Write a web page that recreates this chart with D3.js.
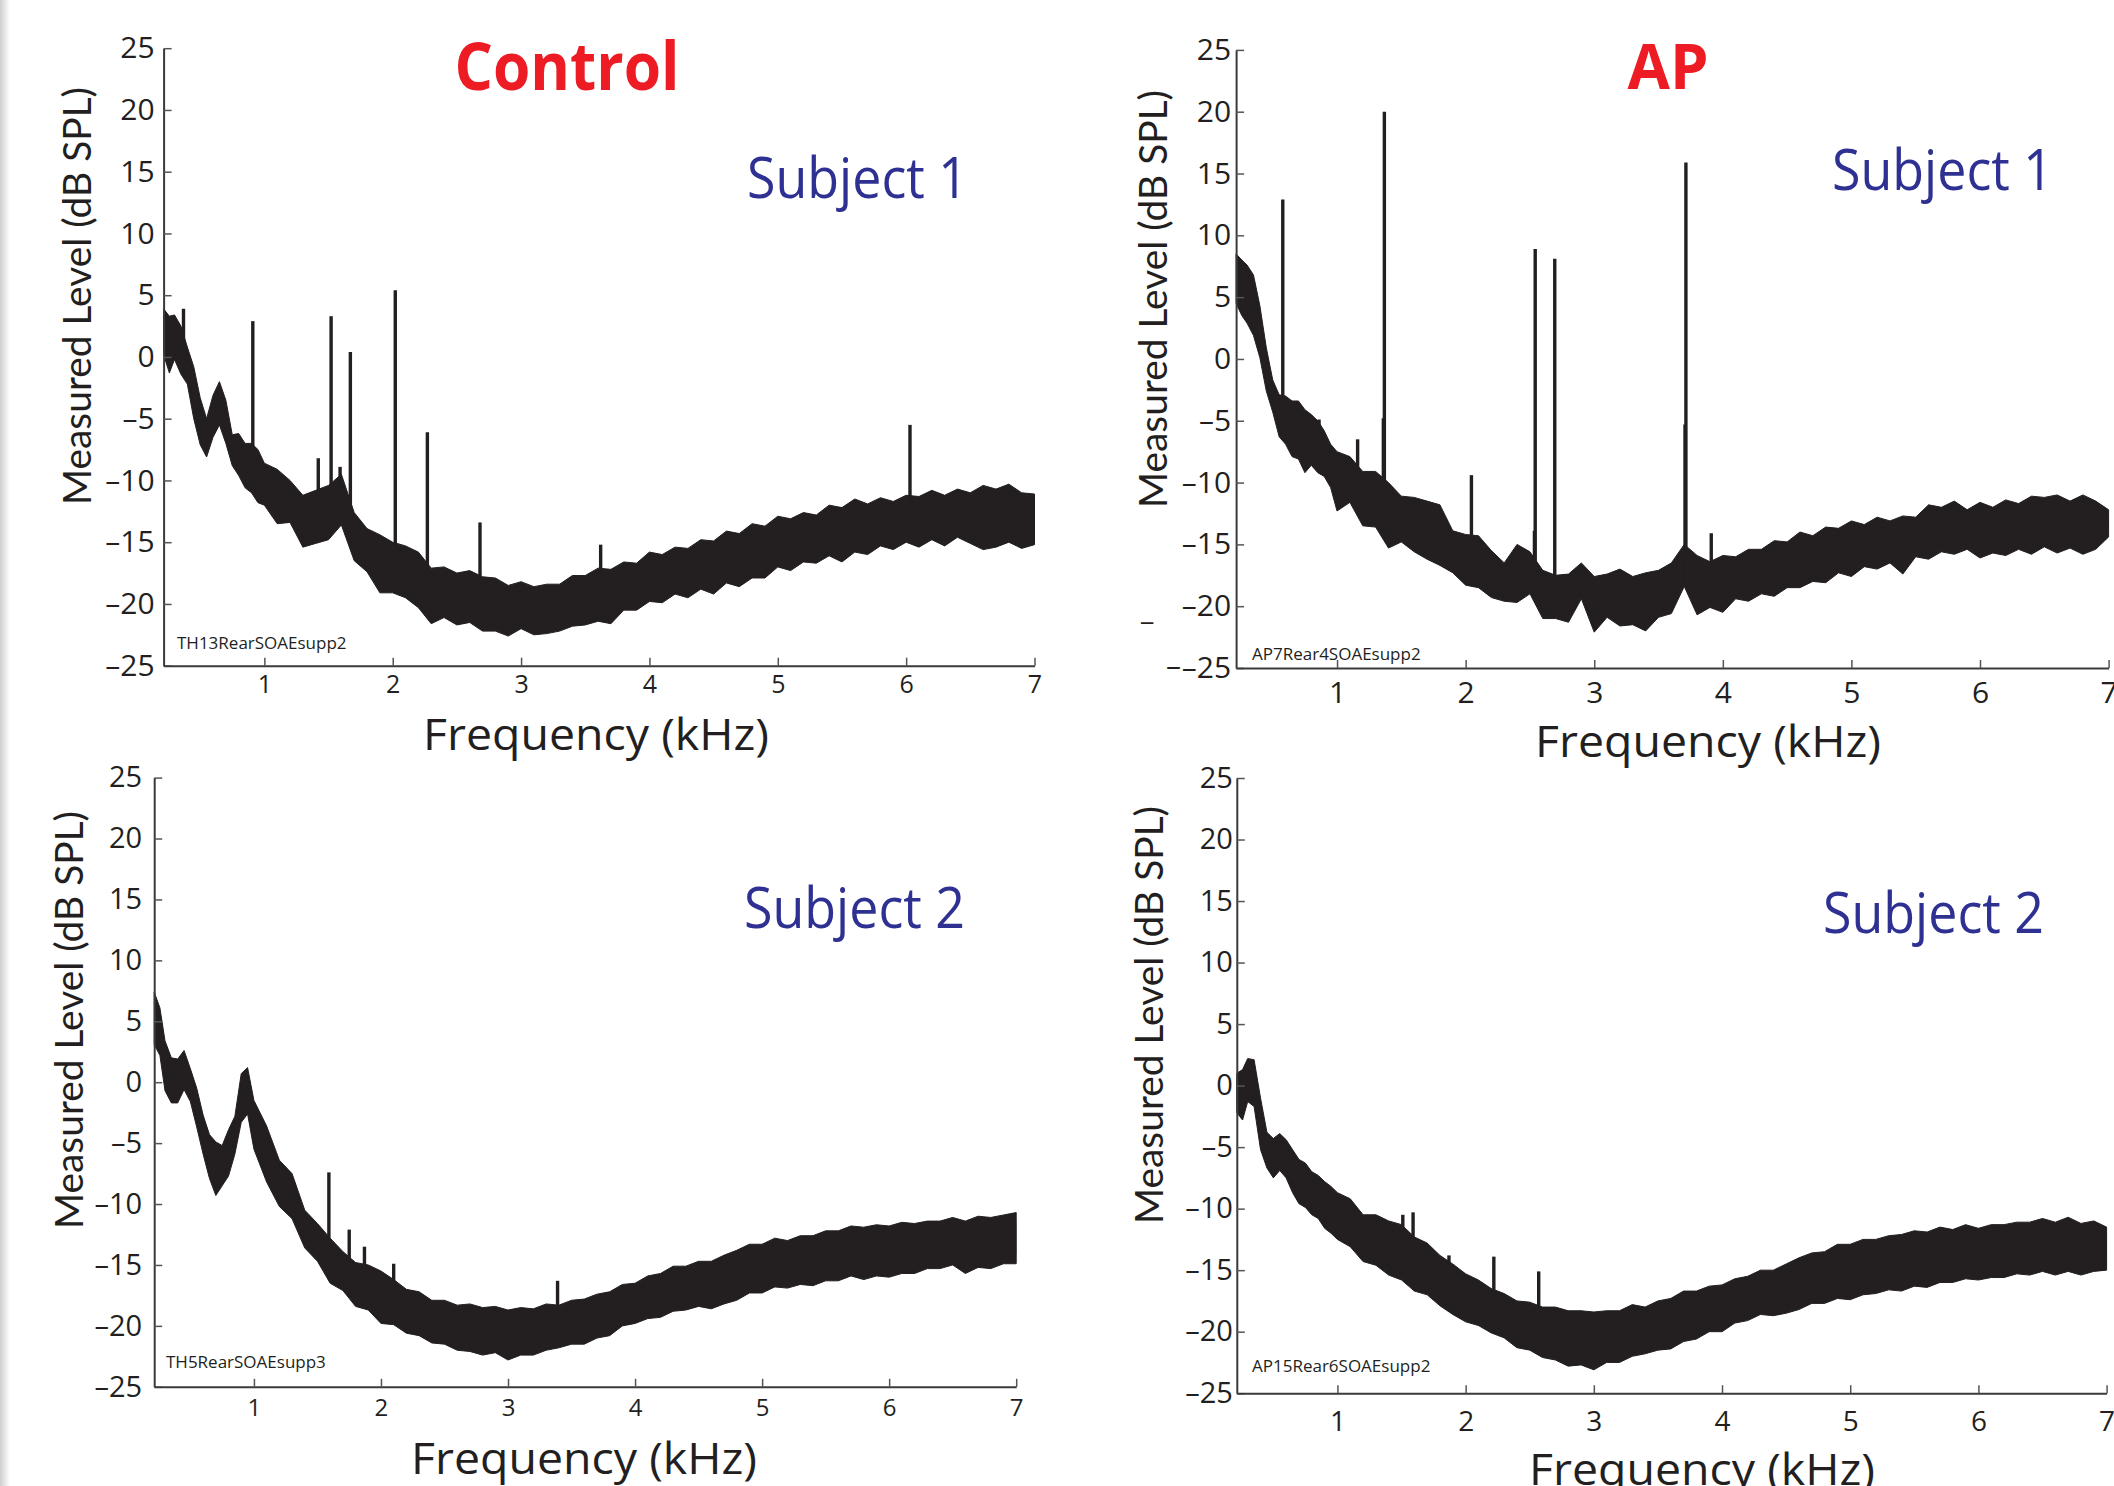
<!DOCTYPE html>
<html>
<head>
<meta charset="utf-8">
<script src="https://cdn.jsdelivr.net/npm/d3@7"></script>
<style>
  body { margin: 0; background: #fff; }
  svg { display: block; }
</style>
</head>
<body>
<svg id="chart" width="2114" height="1486"></svg>
<script>
// frequency grid (kHz) shared by all four spectra
var freq = [0.215, 0.26, 0.3, 0.35, 0.4, 0.45, 0.5, 0.55, 0.6, 0.65, 0.7, 0.75, 0.8, 0.85, 0.9, 0.95, 1.0,
  1.1, 1.2, 1.3, 1.4, 1.5, 1.6, 1.7, 1.8, 1.9, 2.0,
  2.1, 2.2, 2.3, 2.4, 2.5, 2.6, 2.7, 2.8, 2.9, 3.0,
  3.1, 3.2, 3.3, 3.4, 3.5, 3.6, 3.7, 3.8, 3.9, 4.0,
  4.1, 4.2, 4.3, 4.4, 4.5, 4.6, 4.7, 4.8, 4.9, 5.0,
  5.1, 5.2, 5.3, 5.4, 5.5, 5.6, 5.7, 5.8, 5.9, 6.0,
  6.1, 6.2, 6.3, 6.4, 6.5, 6.6, 6.7, 6.8, 6.9, 7.0];

var yTicks = [-25, -20, -15, -10, -5, 0, 5, 10, 15, 20, 25];
var xTicks = [1, 2, 3, 4, 5, 6, 7];

// Control, subject 1: dense noise band (upper/lower) and the tips of its hairs (peak/dip), dB SPL
var ctl1Upper = [3.4, 3.0, 2.8, 2.2, 0.0, -1.5, -4.0, -5.8, -3.8, -2.4, -4.2, -6.8, -7.2, -7.4, -7.8, -8.0, -9.4,
  -9.6, -10.8, -11.6, -11.9, -11.0, -10.2, -13.4, -14.3, -15.3, -15.6,
  -15.8, -16.6, -17.5, -17.9, -18.0, -18.2, -18.3, -18.8, -19.0, -19.0,
  -19.1, -19.2, -18.9, -18.6, -18.2, -18.0, -17.6, -17.5, -17.2, -16.8,
  -16.6, -16.3, -16.1, -15.8, -15.3, -15.1, -14.9, -14.5, -14.2, -13.9,
  -13.7, -13.5, -13.3, -13.0, -12.8, -12.6, -12.5, -12.5, -12.3, -12.2,
  -12.0, -11.9, -11.7, -11.8, -11.6, -11.4, -11.3, -11.3, -11.6, -12.0];
var ctl1Lower = [1.0, -0.5, 0.5, -0.5, -1.6, -4.2, -6.6, -7.4, -6.0, -4.8, -6.5, -8.0, -9.0, -9.6, -10.5, -10.8, -11.4,
  -12.6, -12.9, -14.6, -14.6, -13.9, -13.0, -15.6, -16.9, -18.3, -18.6,
  -18.4, -19.8, -20.8, -20.6, -20.8, -21.0, -21.4, -21.8, -22.0, -21.6,
  -21.8, -22.0, -21.5, -21.4, -20.9, -21.0, -20.8, -20.0, -19.6, -19.3,
  -19.0, -18.7, -18.5, -18.4, -18.2, -17.8, -17.6, -17.4, -16.9, -16.4,
  -16.4, -16.0, -15.6, -15.6, -15.5, -15.3, -15.0, -14.8, -14.6, -14.4,
  -14.5, -14.3, -14.4, -14.1, -14.3, -15.0, -14.4, -14.4, -14.5, -14.7];
var ctl1Peak = [3.9, 3.3, 3.4, 2.5, 0.8, -0.8, -3.3, -5.0, -3.1, -2.0, -3.5, -6.3, -6.2, -7.0, -7.0, -7.5, -8.6,
  -9.1, -10.0, -11.2, -10.8, -10.4, -9.5, -12.6, -13.9, -14.4, -15.0,
  -15.3, -15.8, -17.1, -17.0, -17.5, -17.3, -17.8, -17.9, -18.5, -18.2,
  -18.6, -18.4, -18.4, -17.7, -17.7, -17.1, -17.2, -16.6, -16.7, -15.8,
  -16.0, -15.4, -15.5, -14.8, -14.9, -14.1, -14.3, -13.5, -13.7, -12.9,
  -13.1, -12.6, -12.8, -12.0, -12.2, -11.5, -11.9, -11.4, -11.7, -11.2,
  -11.3, -10.8, -11.2, -10.7, -11.0, -10.4, -10.7, -10.3, -11.0, -11.1];
var ctl1Dip = [0.2, -1.3, -0.2, -1.4, -2.2, -5.0, -7.1, -8.1, -6.5, -5.5, -7.0, -8.8, -9.6, -10.6, -11.0, -11.8, -12.0,
  -13.5, -13.4, -15.4, -15.1, -14.8, -13.6, -16.5, -17.4, -19.1, -19.1,
  -19.5, -20.3, -21.6, -21.1, -21.7, -21.5, -22.2, -22.2, -22.6, -22.0,
  -22.5, -22.4, -22.2, -21.8, -21.7, -21.4, -21.6, -20.5, -20.5, -19.8,
  -19.9, -19.2, -19.5, -18.8, -19.2, -18.3, -18.6, -17.9, -17.9, -17.0,
  -17.3, -16.6, -16.7, -16.1, -16.6, -15.8, -16.0, -15.3, -15.6, -15.0,
  -15.4, -14.8, -15.3, -14.6, -15.1, -15.6, -15.4, -15.0, -15.5, -15.2];
var ctl1SpikeFreq = [0.37, 0.91, 1.42, 1.52, 1.59, 1.67, 2.02, 2.27, 2.68, 3.62, 6.03];
var ctl1SpikeLevel = [3.9, 2.9, -8.2, 3.3, -8.9, 0.4, 5.4, -6.1, -13.4, -15.2, -5.5];

// AP, subject 1
var ap1Upper = [8.0, 7.6, 7.0, 6.3, 3.5, 0.2, -2.3, -3.3, -3.8, -3.8, -4.2, -4.6, -5.3, -5.6, -6.6, -7.4, -8.3,
  -8.4, -9.9, -9.6, -10.8, -11.7, -12.0, -12.0, -12.6, -14.4, -15.0,
  -14.8, -16.2, -17.0, -15.8, -16.1, -17.9, -18.0, -18.2, -17.0, -18.4,
  -17.9, -17.9, -18.1, -18.2, -17.6, -17.3, -15.5, -16.7, -17.0, -16.8,
  -16.5, -16.3, -15.9, -15.6, -15.3, -14.9, -14.8, -14.5, -14.2, -14.1,
  -13.9, -13.7, -13.6, -13.6, -13.3, -12.8, -12.6, -12.5, -12.8, -12.5,
  -12.6, -12.4, -12.2, -12.0, -11.8, -12.0, -12.1, -12.0, -12.1, -12.8];
var ap1Lower = [5.3, 4.0, 3.8, 2.5, 0.9, -1.8, -3.8, -5.5, -6.4, -7.0, -7.6, -8.3, -8.0, -8.3, -9.0, -9.6, -11.6,
  -10.9, -12.6, -13.0, -14.5, -14.2, -14.8, -15.7, -15.8, -16.8, -17.5,
  -17.9, -18.5, -19.0, -18.8, -18.5, -20.2, -20.4, -20.4, -18.9, -21.3,
  -20.4, -20.7, -21.0, -21.0, -20.4, -19.8, -17.9, -19.8, -19.5, -19.6,
  -18.9, -18.7, -18.5, -18.3, -18.0, -17.6, -17.5, -17.1, -16.8, -16.6,
  -16.3, -16.1, -16.0, -16.3, -15.5, -15.3, -15.1, -14.9, -14.9, -15.2,
  -15.2, -15.0, -14.9, -14.8, -14.7, -14.8, -14.8, -14.8, -14.9, -13.8];
var ap1Peak = [8.5, 8.0, 7.6, 6.8, 4.3, 0.9, -1.7, -2.9, -3.0, -3.4, -3.4, -4.1, -4.5, -5.0, -5.8, -6.9, -7.5,
  -7.9, -9.1, -9.1, -10.0, -11.1, -11.2, -11.5, -11.8, -13.9, -14.2,
  -14.3, -15.5, -16.5, -15.0, -15.6, -17.1, -17.5, -17.4, -16.5, -17.6,
  -17.4, -17.0, -17.6, -17.3, -17.1, -16.5, -15.0, -15.9, -16.4, -15.9,
  -16.0, -15.4, -15.4, -14.7, -14.8, -14.0, -14.3, -13.6, -13.7, -13.1,
  -13.4, -12.8, -13.1, -12.7, -12.8, -11.8, -12.0, -11.5, -12.2, -11.6,
  -12.0, -11.4, -11.7, -11.1, -11.2, -11.0, -11.5, -11.0, -11.5, -12.2];
var ap1Dip = [4.5, 3.5, 2.9, 1.9, 0.1, -2.6, -4.3, -6.3, -6.9, -7.9, -8.1, -9.2, -8.6, -9.2, -9.5, -10.4, -12.3,
  -11.6, -13.5, -13.6, -15.3, -14.8, -15.6, -16.2, -16.7, -17.3, -18.3,
  -18.5, -19.3, -19.6, -19.7, -19.0, -21.0, -21.0, -21.3, -19.4, -22.1,
  -20.9, -21.6, -21.5, -22.0, -20.9, -20.6, -18.4, -20.7, -20.1, -20.5,
  -19.4, -19.6, -19.0, -19.2, -18.5, -18.5, -18.0, -18.1, -17.3, -17.6,
  -16.8, -17.0, -16.5, -17.4, -16.0, -16.2, -15.6, -15.8, -15.4, -16.1,
  -15.7, -15.9, -15.4, -15.8, -15.2, -15.7, -15.3, -15.8, -15.4, -14.4];
var ap1SpikeFreq = [0.578, 0.86, 1.16, 1.36, 1.368, 2.045, 2.535, 2.541, 2.693, 3.706, 3.713, 3.91];
var ap1SpikeLevel = [12.9, -4.9, -6.5, -4.8, 20.0, -9.4, -13.9, 8.9, 8.1, -5.3, 15.9, -14.1];

// Control, subject 2
var ctl2Upper = [7.0, 5.6, 3.0, 1.4, 1.5, 2.2, 0.8, -1.0, -3.0, -4.8, -5.3, -5.8, -4.3, -3.4, 0.2, 0.8, -2.0,
  -4.3, -6.9, -8.2, -11.0, -12.4, -13.3, -14.7, -15.3, -15.8, -16.0,
  -16.9, -17.6, -17.9, -18.4, -18.6, -18.8, -19.0, -19.0, -19.1, -19.3,
  -19.3, -19.1, -19.0, -18.9, -18.6, -18.4, -18.2, -17.8, -17.4, -17.1,
  -16.7, -16.3, -15.9, -15.7, -15.6, -15.3, -15.0, -14.5, -14.1, -13.9,
  -13.7, -13.6, -13.5, -13.3, -13.1, -12.9, -12.7, -12.6, -12.5, -12.5,
  -12.4, -12.3, -12.2, -12.1, -12.1, -12.0, -11.9, -11.8, -11.7, -11.5];
var ctl2Lower = [3.7, 2.7, 0.0, -1.1, -1.0, -0.2, -0.9, -3.2, -5.2, -7.3, -8.6, -8.1, -7.0, -5.4, -2.6, -2.0, -4.8,
  -7.6, -9.4, -10.6, -12.8, -14.0, -15.7, -16.5, -17.6, -18.0, -19.0,
  -19.3, -19.8, -20.1, -20.6, -20.9, -21.2, -21.5, -21.4, -21.6, -22.0,
  -21.8, -21.6, -21.5, -21.0, -20.9, -20.8, -20.4, -20.0, -19.4, -19.0,
  -18.8, -18.4, -18.1, -17.8, -17.8, -17.7, -17.5, -17.0, -16.6, -16.4,
  -16.1, -16.0, -15.9, -15.8, -15.6, -15.4, -15.2, -15.2, -15.3, -15.1,
  -15.0, -14.9, -14.6, -14.5, -14.4, -14.8, -14.6, -14.4, -14.3, -14.1];
var ctl2Peak = [7.4, 6.1, 3.4, 2.0, 1.9, 2.6, 1.1, -0.5, -2.7, -4.3, -4.9, -5.2, -3.9, -2.8, 0.7, 1.2, -1.5,
  -3.6, -6.4, -7.5, -10.5, -11.6, -12.8, -13.9, -14.8, -15.0, -15.5,
  -16.2, -17.0, -17.2, -17.9, -17.9, -18.3, -18.2, -18.5, -18.4, -18.7,
  -18.5, -18.6, -18.2, -18.3, -17.9, -17.8, -17.4, -17.2, -16.6, -16.5,
  -15.9, -15.7, -15.1, -15.1, -14.7, -14.7, -14.2, -13.8, -13.3, -13.3,
  -12.8, -13.0, -12.6, -12.6, -12.2, -12.2, -11.8, -11.9, -11.7, -11.8,
  -11.5, -11.6, -11.4, -11.4, -11.1, -11.4, -11.0, -11.1, -10.9, -10.7];
var ctl2Dip = [3.1, 2.2, -0.7, -1.7, -1.7, -0.6, -1.6, -3.7, -5.9, -7.9, -9.3, -8.5, -7.7, -5.9, -3.3, -2.6, -5.5,
  -8.2, -10.2, -11.2, -13.6, -14.7, -16.5, -17.1, -18.4, -18.7, -19.8,
  -19.9, -20.6, -20.8, -21.4, -21.5, -22.0, -22.1, -22.4, -22.2, -22.8,
  -22.4, -22.4, -22.0, -21.8, -21.5, -21.5, -21.0, -20.8, -20.0, -19.8,
  -19.4, -19.3, -18.8, -18.7, -18.4, -18.6, -18.2, -17.9, -17.3, -17.3,
  -16.8, -16.9, -16.6, -16.7, -16.3, -16.3, -15.9, -16.2, -15.9, -16.0,
  -15.7, -15.7, -15.3, -15.3, -15.0, -15.7, -15.2, -15.3, -14.9, -14.9];
var ctl2SpikeFreq = [1.59, 1.75, 1.87, 2.10, 3.39];
var ctl2SpikeLevel = [-7.4, -12.1, -13.5, -14.9, -16.3];

// AP, subject 2
var ap2Upper = [0.4, 0.9, 1.6, 1.8, -1.6, -4.4, -4.7, -4.5, -4.8, -5.9, -6.5, -7.0, -7.5, -8.0, -8.4, -9.0, -9.3,
  -10.0, -11.1, -11.3, -11.6, -12.2, -12.9, -13.6, -14.4, -15.3, -15.9,
  -16.5, -17.1, -17.7, -18.1, -18.4, -18.6, -18.8, -19.0, -19.1, -19.1,
  -19.1, -18.9, -18.6, -18.6, -18.3, -17.9, -17.5, -17.3, -17.1, -16.8,
  -16.5, -16.1, -15.8, -15.6, -15.3, -14.6, -14.4, -14.1, -13.8, -13.5,
  -13.3, -13.2, -13.0, -12.8, -12.6, -12.5, -12.4, -12.3, -12.2, -12.2,
  -12.1, -12.0, -11.9, -11.8, -11.7, -11.7, -11.6, -11.8, -11.9, -12.1];
var ap2Lower = [-1.5, -2.4, -0.6, -1.2, -4.6, -6.2, -6.8, -6.4, -6.8, -8.2, -8.9, -9.4, -9.8, -10.2, -10.9, -11.4, -11.7,
  -12.5, -13.5, -14.0, -14.6, -15.2, -15.9, -16.4, -17.1, -18.0, -18.4,
  -18.9, -19.3, -19.9, -20.5, -20.9, -21.3, -21.7, -22.0, -22.1, -22.4,
  -21.9, -21.7, -21.4, -21.0, -20.9, -20.6, -20.2, -19.8, -19.4, -19.1,
  -18.7, -18.3, -18.0, -17.8, -17.9, -17.3, -17.0, -16.8, -16.6, -16.5,
  -16.3, -16.0, -15.9, -15.8, -15.6, -15.5, -15.3, -15.1, -15.0, -14.9,
  -14.9, -14.7, -14.6, -14.5, -14.4, -14.5, -14.4, -14.5, -14.4, -14.3];
var ap2Peak = [1.0, 1.3, 2.2, 2.1, -1.0, -3.8, -4.3, -3.9, -4.4, -5.2, -6.0, -6.3, -7.0, -7.3, -7.8, -8.2, -8.7,
  -9.2, -10.5, -10.5, -11.0, -11.3, -12.3, -12.8, -13.8, -14.5, -15.3,
  -15.8, -16.5, -16.9, -17.5, -17.6, -18.0, -18.0, -18.3, -18.3, -18.4,
  -18.3, -18.3, -17.8, -18.0, -17.5, -17.3, -16.7, -16.7, -16.3, -16.2,
  -15.7, -15.5, -15.0, -15.0, -14.5, -14.0, -13.6, -13.5, -12.9, -12.9,
  -12.5, -12.5, -12.2, -12.1, -11.8, -11.9, -11.5, -11.7, -11.3, -11.6,
  -11.3, -11.3, -11.1, -11.1, -10.8, -11.1, -10.7, -11.2, -11.0, -11.5];
var ap2Dip = [-2.2, -2.8, -1.3, -1.7, -5.2, -6.7, -7.5, -6.9, -7.5, -8.7, -9.6, -9.9, -10.5, -10.8, -11.6, -12.0, -12.5,
  -13.1, -14.3, -14.6, -15.4, -15.8, -16.7, -17.0, -17.9, -18.6, -19.2,
  -19.5, -20.1, -20.5, -21.3, -21.5, -22.1, -22.3, -22.8, -22.7, -23.1,
  -22.5, -22.5, -22.0, -21.8, -21.5, -21.4, -20.8, -20.6, -20.0, -20.0,
  -19.3, -19.1, -18.6, -18.7, -18.5, -18.2, -17.7, -17.7, -17.3, -17.4,
  -17.0, -16.9, -16.6, -16.7, -16.3, -16.4, -16.0, -16.0, -15.7, -15.8,
  -15.6, -15.6, -15.3, -15.4, -15.1, -15.4, -15.1, -15.4, -15.1, -15.0];
var ap2SpikeFreq = [1.51, 1.59, 1.66, 1.87, 2.22, 2.57];
var ap2SpikeLevel = [-10.5, -10.3, -13.4, -13.8, -13.9, -15.1];

var svg = d3.select("#chart");
var ink = "#231f20";

// page edge shading on the far left
var grad = svg.append("defs").append("linearGradient").attr("id", "edge");
grad.append("stop").attr("offset", "0%").attr("stop-color", "#cfcfcf");
grad.append("stop").attr("offset", "100%").attr("stop-color", "#ffffff");
svg.append("rect").attr("x", 0).attr("y", 0).attr("width", 10).attr("height", 1486).attr("fill", "url(#edge)");

var panels = [
  { upper: ctl1Upper, lower: ctl1Lower, peak: ctl1Peak, dip: ctl1Dip, sf: ctl1SpikeFreq, sl: ctl1SpikeLevel,
    left: 163.6, right: 1034.5, top: 48.2, bottom: 665.7,
    yPad: 9, yFont: 30, xFont: 25, xBase: 27,
    subject: "Subject 1", subjX: 747, subjY: 198,
    file: "TH13RearSOAEsupp2", fileX: 177, fileY: 649,
    yLabX: 77, yLabY: 296, xLabX: 596, xLabY: 750 },
  { upper: ap1Upper, lower: ap1Lower, peak: ap1Peak, dip: ap1Dip, sf: ap1SpikeFreq, sl: ap1SpikeLevel,
    left: 1236.1, right: 2108.6, top: 49.9, bottom: 668,
    yPad: 5, yFont: 30, xFont: 30, xBase: 35,
    subject: "Subject 1", subjX: 1832, subjY: 190,
    file: "AP7Rear4SOAEsupp2", fileX: 1252, fileY: 660,
    yLabX: 1153, yLabY: 299, xLabX: 1708, xLabY: 757 },
  { upper: ctl2Upper, lower: ctl2Lower, peak: ctl2Peak, dip: ctl2Dip, sf: ctl2SpikeFreq, sl: ctl2SpikeLevel,
    left: 154.2, right: 1016.2, top: 777.6, bottom: 1386.8,
    yPad: 12, yFont: 29, xFont: 24, xBase: 29,
    subject: "Subject 2", subjX: 744, subjY: 928,
    file: "TH5RearSOAEsupp3", fileX: 166, fileY: 1368,
    yLabX: 69, yLabY: 1020, xLabX: 584, xLabY: 1474 },
  { upper: ap2Upper, lower: ap2Lower, peak: ap2Peak, dip: ap2Dip, sf: ap2SpikeFreq, sl: ap2SpikeLevel,
    left: 1236.8, right: 2106.6, top: 778, bottom: 1393.2,
    yPad: 4, yFont: 29, xFont: 28, xBase: 38,
    subject: "Subject 2", subjX: 1823, subjY: 933,
    file: "AP15Rear6SOAEsupp2", fileX: 1252, fileY: 1372,
    yLabX: 1149, yLabY: 1015, xLabX: 1702, xLabY: 1485 }
];

function minus(d) { return d < 0 ? "\u2013" + Math.abs(d) : "" + d; }

panels.forEach(function (p) {
  var x = d3.scaleLinear().domain([0.215, 7]).range([p.left, p.right]);
  var y = d3.scaleLinear().domain([-25, 25]).range([p.bottom, p.top]);
  var g = svg.append("g");

  var rows = freq.map(function (f, i) {
    return { f: f, hi: p.upper[i], lo: p.lower[i], pk: p.peak[i], dp: p.dip[i] };
  });

  // full extent of the noise, hair tips included
  var outer = d3.area()
    .x(function (d) { return x(d.f); })
    .y0(function (d) { return y(d.dp); })
    .y1(function (d) { return y(d.pk); });

  g.append("path")
    .datum(rows)
    .attr("d", outer)
    .attr("fill", ink)
    .attr("stroke", ink)
    .attr("stroke-width", 1)
    .attr("stroke-linejoin", "miter");

  // dense core of the band
  var core = d3.area()
    .x(function (d) { return x(d.f); })
    .y0(function (d) { return y(d.lo); })
    .y1(function (d) { return y(d.hi); });

  g.append("path")
    .datum(rows)
    .attr("d", core)
    .attr("fill", ink);

  // narrow emission peaks rising out of the noise floor
  g.selectAll(".spike")
    .data(p.sf.map(function (f, i) { return { f: f, v: p.sl[i] }; }))
    .enter().append("line")
    .attr("x1", function (d) { return x(d.f); })
    .attr("x2", function (d) { return x(d.f); })
    .attr("y1", function (d) {
      var r = rows[Math.min(d3.bisectLeft(freq, d.f), rows.length - 1)];
      return y((r.hi + r.lo) / 2);
    })
    .attr("y2", function (d) { return y(d.v); })
    .attr("stroke", ink)
    .attr("stroke-width", 3.4);

  var yAxis = g.append("g")
    .attr("transform", "translate(" + p.left + ",0)")
    .call(d3.axisLeft(y).tickValues(yTicks).tickSize(-8).tickSizeOuter(0).tickPadding(p.yPad).tickFormat(minus));
  yAxis.selectAll("text").attr("font-family", "Open Sans").attr("font-size", p.yFont).attr("fill", "#231f20");

  var xAxis = g.append("g")
    .attr("transform", "translate(0," + p.bottom + ")")
    .call(d3.axisBottom(x).tickValues(xTicks).tickSize(-8).tickSizeOuter(0).tickFormat(d3.format("d")));
  xAxis.selectAll("text").attr("font-family", "Open Sans").attr("font-size", p.xFont)
    .attr("fill", "#231f20").attr("dy", null).attr("y", p.xBase);

  [yAxis, xAxis].forEach(function (a) {
    a.select(".domain").attr("stroke", "#3a3a3a").attr("stroke-width", 2);
    a.selectAll(".tick line").attr("stroke", "#555").attr("stroke-width", 1.5);
  });

  g.append("text")
    .attr("transform", "translate(" + p.yLabX + "," + p.yLabY + ") rotate(-90)")
    .attr("text-anchor", "middle").attr("dy", "0.36em")
    .attr("font-family", "Lato").attr("font-size", 38)
    .attr("textLength", 418).attr("lengthAdjust", "spacingAndGlyphs")
    .attr("fill", "#231f20")
    .text("Measured Level (dB SPL)");

  g.append("text")
    .attr("x", p.xLabX).attr("y", p.xLabY)
    .attr("text-anchor", "middle")
    .attr("font-family", "Open Sans").attr("font-size", 44)
    .attr("textLength", 346).attr("lengthAdjust", "spacingAndGlyphs")
    .attr("fill", "#231f20")
    .text("Frequency (kHz)");

  g.append("text")
    .attr("x", p.subjX).attr("y", p.subjY)
    .attr("font-family", "Open Sans").attr("font-size", 56)
    .attr("textLength", 221).attr("lengthAdjust", "spacingAndGlyphs")
    .attr("fill", "#2e3192")
    .text(p.subject);

  g.append("text")
    .attr("x", p.fileX).attr("y", p.fileY)
    .attr("font-family", "Open Sans").attr("font-size", 17)
    .attr("fill", "#231f20")
    .text(p.file);
});

// column headings
svg.append("text")
  .attr("x", 567).attr("y", 90)
  .attr("text-anchor", "middle")
  .attr("font-family", "Open Sans").attr("font-weight", 700).attr("font-size", 67)
  .attr("textLength", 225).attr("lengthAdjust", "spacingAndGlyphs")
  .attr("fill", "#ed1c24")
  .text("Control");

svg.append("text")
  .attr("x", 1668).attr("y", 89)
  .attr("text-anchor", "middle")
  .attr("font-family", "Open Sans").attr("font-weight", 700).attr("font-size", 63)
  .attr("textLength", 81).attr("lengthAdjust", "spacingAndGlyphs")
  .attr("fill", "#ed1c24")
  .text("AP");

// stray marks left of the AP axis
svg.append("text").attr("x", 1141).attr("y", 620)
  .attr("font-family", "Open Sans").attr("font-size", 28).attr("fill", "#231f20").text("_");
svg.append("text").attr("x", 1166).attr("y", 676)
  .attr("font-family", "Open Sans").attr("font-size", 30).attr("fill", "#231f20").text("\u2013");
</script>
</body>
</html>
